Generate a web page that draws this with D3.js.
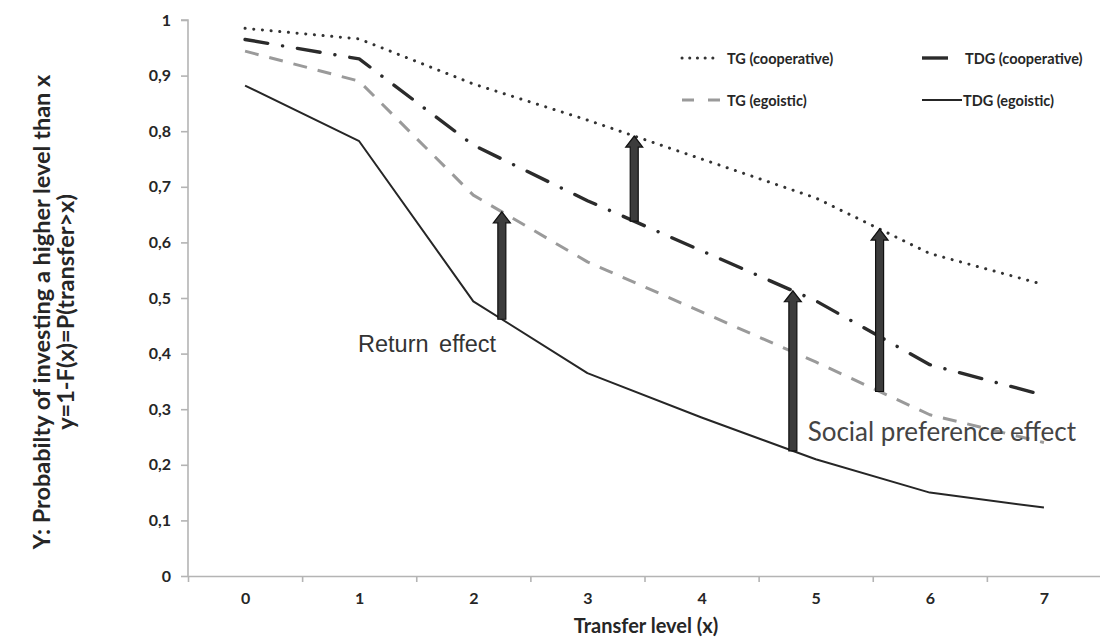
<!DOCTYPE html>
<html>
<head>
<meta charset="utf-8">
<script src="https://cdn.jsdelivr.net/npm/d3@7"></script>
<style>
  html, body { margin: 0; padding: 0; background: #ffffff; }
  svg { display: block; }
</style>
</head>
<body>
<svg id="chart" width="1100" height="638"></svg>
<script>
// ---------- data ----------
const categories = [0, 1, 2, 3, 4, 5, 6, 7];
const xTickLabels = ["0", "1", "2", "3", "4", "5", "6", "7"];
const yTickValues = [0, 0.1, 0.2, 0.3, 0.4, 0.5, 0.6, 0.7, 0.8, 0.9, 1];
const yTickLabels = ["0", "0,1", "0,2", "0,3", "0,4", "0,5", "0,6", "0,7", "0,8", "0,9", "1"];

const seriesNames = ["TG (cooperative)", "TDG (cooperative)", "TG (egoistic)", "TDG (egoistic)"];
const tgCooperative  = [0.985, 0.966, 0.885, 0.82, 0.75, 0.68, 0.58, 0.524];
const tdgCooperative = [0.965, 0.93, 0.775, 0.675, 0.585, 0.495, 0.38, 0.325];
const tgEgoistic     = [0.944, 0.89, 0.685, 0.565, 0.475, 0.385, 0.29, 0.24];
const tdgEgoistic    = [0.882, 0.782, 0.494, 0.365, 0.285, 0.21, 0.15, 0.123];

// effect arrows: position on the transfer axis, from series -> to series
const arrowX    = [2.25, 3.41, 4.8, 5.56];
const arrowFrom = ["TDG (egoistic)", "TDG (cooperative)", "TDG (egoistic)", "TG (egoistic)"];
const arrowTo   = ["TG (egoistic)", "TG (cooperative)", "TDG (cooperative)", "TG (cooperative)"];

const annotationTexts = ["Return effect", "Social preference effect"];
const annotationX = [0.99, 4.93];
const annotationY = [0.402, 0.243];

const xTitle = "Transfer level (x)";
const yTitleLines = ["Y: Probabilty of investing a higher level than x", "y=1-F(x)=P(transfer>x)"];

// ---------- layout / styles ----------
const margin = { left: 188, right: 0, top: 20, bottom: 62 };
const svg = d3.select("#chart");

const x = d3.scaleLinear().domain([-0.5, 7.5]).range([margin.left, 1101]);
const y = d3.scaleLinear().domain([0, 1]).range([576, margin.top]);

const seriesValues = {
  "TG (cooperative)": tgCooperative,
  "TDG (cooperative)": tdgCooperative,
  "TG (egoistic)": tgEgoistic,
  "TDG (egoistic)": tdgEgoistic
};
const seriesStyle = {
  "TG (cooperative)":  { stroke: "#333333", width: 3,   dash: "0.1,8.6", cap: "round" },
  "TDG (cooperative)": { stroke: "#2b2b2b", width: 3.4, dash: "23,15,0.1,15", cap: "round" },
  "TG (egoistic)":     { stroke: "#9a9a9a", width: 3,   dash: "14,11", cap: "butt" },
  "TDG (egoistic)":    { stroke: "#262626", width: 2,   dash: null, cap: "butt" }
};

const textColor = "#262626";
const axisColor = "#b4b4b4";
const boldFont = "Lato, 'Open Sans', sans-serif";

// ---------- axes ----------
const yAxis = d3.axisLeft(y)
  .tickValues(yTickValues)
  .tickFormat((d, i) => yTickLabels[i])
  .tickSize(7)
  .tickPadding(10);
const gy = svg.append("g").attr("transform", `translate(${margin.left},0)`).call(yAxis);
gy.select(".domain").attr("stroke", axisColor).attr("stroke-width", 1.6)
  .attr("d", `M-7,${y(1)}H0V${y(0)}`);
gy.selectAll(".tick line").attr("stroke", axisColor).attr("stroke-width", 1.6);
gy.selectAll(".tick text")
  .attr("fill", textColor)
  .style("font-family", boldFont)
  .style("font-weight", "700")
  .style("font-size", "16px");

// x axis: boundary ticks
const boundaries = d3.range(-0.5, 7.51, 1);
const xAxisTicks = d3.axisBottom(x).tickValues(boundaries).tickFormat("").tickSize(6).tickSizeOuter(0);
const gx = svg.append("g").attr("transform", `translate(0,${y(0)})`).call(xAxisTicks);
gx.select(".domain").attr("stroke", axisColor).attr("stroke-width", 1.6);
gx.selectAll(".tick line").attr("stroke", axisColor).attr("stroke-width", 1.6);

// x axis labels
const xAxisLabels = d3.axisBottom(x).tickValues(categories).tickFormat((d, i) => xTickLabels[i]).tickSize(0).tickPadding(17);
const gxl = svg.append("g").attr("transform", `translate(0,${y(0)})`).call(xAxisLabels);
gxl.select(".domain").remove();
gxl.selectAll(".tick text")
  .attr("fill", textColor)
  .style("font-family", boldFont)
  .style("font-weight", "700")
  .style("font-size", "16px");

// axis titles
svg.append("text")
  .attr("x", 646).attr("y", 633)
  .attr("text-anchor", "middle")
  .attr("fill", textColor)
  .style("font-family", boldFont)
  .style("font-weight", "700")
  .style("font-size", "20px")
  .text(xTitle);

const yTitleX = [41, 65];
yTitleLines.forEach((t, i) => {
  svg.append("text")
    .attr("transform", `translate(${yTitleX[i]},312) rotate(-90)`)
    .attr("text-anchor", "middle")
    .attr("dominant-baseline", "central")
    .attr("fill", textColor)
    .style("font-family", boldFont)
    .style("font-weight", "700")
    .style("font-size", "23.5px")
    .text(t);
});

// ---------- lines ----------
const line = d3.line().x((d, i) => x(categories[i])).y(d => y(d));
const drawOrder = ["TDG (egoistic)", "TG (egoistic)", "TDG (cooperative)", "TG (cooperative)"];
drawOrder.forEach(name => {
  const s = seriesStyle[name];
  svg.append("path")
    .datum(seriesValues[name])
    .attr("d", line)
    .attr("fill", "none")
    .attr("stroke", s.stroke)
    .attr("stroke-width", s.width)
    .attr("stroke-linecap", s.cap)
    .attr("stroke-linejoin", "round")
    .attr("stroke-dasharray", s.dash);
});

// ---------- arrows ----------
function valueAt(name, xv) {
  const v = seriesValues[name];
  const i0 = Math.floor(xv), i1 = Math.min(i0 + 1, v.length - 1);
  const t = xv - i0;
  return v[i0] + (v[i1] - v[i0]) * t;
}
const shaftHalf = 4, headHalf = 8.5, headLen = 11;
arrowX.forEach((xv, i) => {
  const px = x(xv);
  const yBottom = y(valueAt(arrowFrom[i], xv));
  const yTop = y(valueAt(arrowTo[i], xv));
  const p = d3.path();
  p.moveTo(px - shaftHalf, yBottom);
  p.lineTo(px - shaftHalf, yTop + headLen);
  p.lineTo(px - headHalf, yTop + headLen);
  p.lineTo(px, yTop);
  p.lineTo(px + headHalf, yTop + headLen);
  p.lineTo(px + shaftHalf, yTop + headLen);
  p.lineTo(px + shaftHalf, yBottom);
  p.closePath();
  svg.append("path")
    .attr("d", p.toString())
    .attr("fill", "#3c3c3c")
    .attr("stroke", "#111111")
    .attr("stroke-width", 1.2)
    .attr("stroke-linejoin", "miter");
});

// ---------- annotations ----------
svg.append("text")
  .attr("x", x(annotationX[0])).attr("y", y(annotationY[0]))
  .attr("fill", "#333333")
  .style("font-family", "'Liberation Sans', Arial, sans-serif")
  .style("font-size", "23.5px")
  .style("word-spacing", "4px")
  .text(annotationTexts[0]);
svg.append("text")
  .attr("x", x(annotationX[1])).attr("y", y(annotationY[1]))
  .attr("fill", "#444444")
  .style("font-family", boldFont)
  .style("font-size", "26px")
  .text(annotationTexts[1]);

// ---------- legend ----------
const legendItems = [
  { name: "TG (cooperative)",  sx: 682, ex: 720, ty: 58,  tx: 727, sampleDash: "0.1,7.6" },
  { name: "TDG (cooperative)", sx: 922, ex: 948, ty: 58,  tx: 965, sampleDash: null },
  { name: "TG (egoistic)",     sx: 682, ex: 720, ty: 100, tx: 727, sampleDash: "12,14" },
  { name: "TDG (egoistic)",    sx: 922, ex: 962, ty: 100, tx: 963, sampleDash: null }
];
const lg = svg.append("g");
legendItems.forEach(it => {
  const s = seriesStyle[it.name];
  lg.append("line")
    .attr("x1", it.sx).attr("x2", it.ex)
    .attr("y1", it.ty).attr("y2", it.ty)
    .attr("stroke", s.stroke)
    .attr("stroke-width", s.width)
    .attr("stroke-linecap", it.name === "TG (cooperative)" ? "round" : "butt")
    .attr("stroke-dasharray", it.sampleDash);
  lg.append("text")
    .attr("x", it.tx).attr("y", it.ty)
    .attr("dominant-baseline", "central")
    .attr("fill", textColor)
    .style("font-family", boldFont)
    .style("font-weight", "700")
    .style("font-size", "14.5px")
    .text(it.name);
});
</script>
</body>
</html>
